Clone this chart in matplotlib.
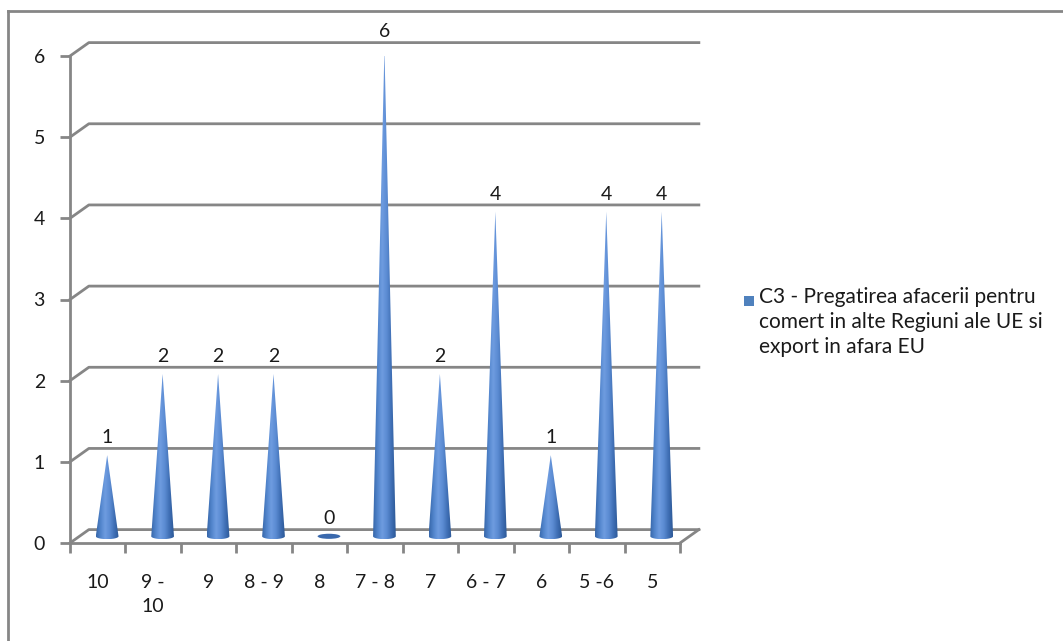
import numpy as np
import matplotlib.pyplot as plt
from matplotlib.patches import Polygon, Ellipse, Rectangle
from matplotlib.colors import LinearSegmentedColormap
from matplotlib.lines import Line2D

# data
categories = ["10", "9 -\n10", "9", "8 - 9", "8", "7 - 8", "7", "6 - 7", "6", "5 -6", "5"]
values = [1, 2, 2, 2, 0, 6, 2, 4, 1, 4, 4]
series_name = "C3 - Pregatirea afacerii pentru\ncomert in alte Regiuni ale UE si\nexport in afara EU"
y_ticks = [0, 1, 2, 3, 4, 5, 6]

plt.rcParams['font.family'] = ['Lato', 'DejaVu Sans']
grid_col = '#868686'
text_col = '#1a1a1a'

fig = plt.figure(figsize=(10.63, 6.41), dpi=100)
ax = fig.add_axes([70 / 1063, 98 / 641, 610 / 1063, 487 / 641])
n = len(categories)
ax.set_xlim(-0.5, n - 0.5)
ax.set_ylim(0, 6)

# pseudo 3d depth offset (data units)
ddx = 0.34
ddy = 0.165

# back wall gridlines + slanted side lines
for k in y_ticks:
    ax.plot([-0.5, -0.5 + ddx, n - 0.5 + ddx], [k, k + ddy, k + ddy],
            color=grid_col, lw=2, clip_on=False, zorder=1)
# right edge of floor
ax.plot([n - 0.5, n - 0.5 + ddx], [0, ddy], color=grid_col, lw=2, clip_on=False, zorder=1)

# cones
cmap = LinearSegmentedColormap.from_list(
    'cone', ['#3767aa', '#5285cc', '#6e9ce0', '#5c8cd3', '#4070b6', '#2d5997'])
grad = np.linspace(0, 1, 64).reshape(1, -1)
w = 0.205
e = 0.035
base = ddy / 2
for i, v in enumerate(values):
    cx = i + ddx / 2
    if v == 0:
        ax.add_patch(Ellipse((cx, base), 2 * w, 2 * e * 0.9, facecolor='#3a69ad',
                             edgecolor='none', zorder=3, clip_on=False))
        top = base
    else:
        t = np.linspace(np.pi, 2 * np.pi, 30)
        arc = np.column_stack([cx + w * np.cos(t), base + e * np.sin(t)])
        pts = np.vstack([[[cx, v + base]], arc])
        poly = Polygon(pts, closed=True, facecolor='none', edgecolor='none')
        ax.add_patch(poly)
        im = ax.imshow(grad, cmap=cmap, aspect='auto', interpolation='bilinear',
                       extent=(cx - w, cx + w, base - e, v + base), zorder=3)
        im.set_clip_path(poly)
        top = v + base
    ax.text(cx, top + 0.11, str(v), ha='center', va='bottom', fontsize=14,
            color=text_col, clip_on=False)

ax.set_xlim(-0.5, n - 0.5)
ax.set_ylim(0, 6)

# axes styling
for s in ['top', 'right']:
    ax.spines[s].set_visible(False)
for s in ['left', 'bottom']:
    ax.spines[s].set_color(grid_col)
    ax.spines[s].set_linewidth(2)
    ax.spines[s].set_zorder(2)
ax.set_yticks(y_ticks)
ax.set_yticklabels([str(k) for k in y_ticks])
ax.set_xticks(np.arange(-0.5, n, 1.0))
ax.set_xticklabels([])
ax.set_xticks(np.arange(n), minor=True)
ax.set_xticklabels(categories, minor=True, va='top', linespacing=1.5)
ax.tick_params(axis='y', direction='out', length=7, width=2, color=grid_col,
               labelsize=14, labelcolor=text_col, pad=11)
ax.tick_params(axis='x', which='major', direction='out', length=7, width=2, color=grid_col)
ax.tick_params(axis='x', which='minor', length=0, labelsize=14, labelcolor=text_col, pad=22)
ax.patch.set_visible(False)

# legend (square aligned to first line, like the original)
fig.add_artist(Rectangle((744 / 1063, 1 - 306 / 641), 10 / 1063, 10 / 641,
                         transform=fig.transFigure, facecolor='#4f81bd', edgecolor='none'))
fig.text(759 / 1063, 1 - 287 / 641, series_name, ha='left', va='top', fontsize=15,
         color=text_col, linespacing=1.3)

# chart area border (only top and left visible)
fig.add_artist(Line2D([8 / 1063, 1.0], [1 - 11 / 641, 1 - 11 / 641], color=grid_col, lw=2))
fig.add_artist(Line2D([8 / 1063, 8 / 1063], [0, 1 - 11 / 641], color=grid_col, lw=2))

fig.savefig('out.png', dpi=100)
